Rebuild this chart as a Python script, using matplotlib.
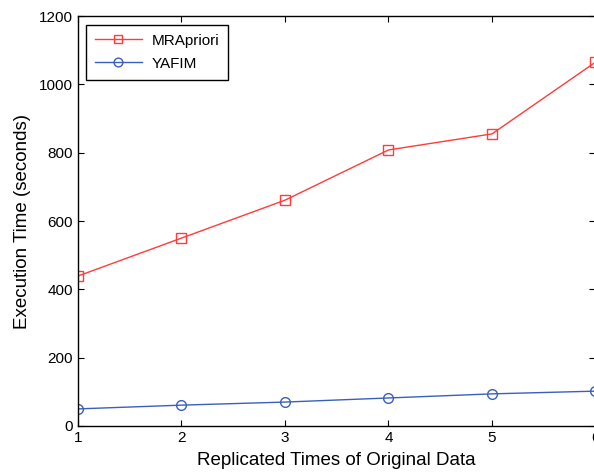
import matplotlib
matplotlib.use("Agg")
import matplotlib.pyplot as plt

plt.rcParams['font.family'] = ['Liberation Sans', 'DejaVu Sans']

x = [1, 2, 3, 4, 5, 6]
mrapriori = [439, 550, 661, 808, 855, 1065]
yafim = [50, 61, 70, 82, 94, 102]
xlabel = "Replicated Times of Original Data"
ylabel = "Execution Time (seconds)"

fig = plt.figure(figsize=(5.94, 4.72), dpi=100)
ax = fig.add_axes([0.1313, 0.0975, 0.8712, 0.8685])
ax.plot(x, mrapriori, color='#ff3b3b', marker='s', markersize=7, markerfacecolor='none',
        markeredgecolor='#ff3b3b', linewidth=1.0, label='MRApriori')
ax.plot(x, yafim, color='#3a5fbf', marker='o', markersize=7, markerfacecolor='none',
        markeredgecolor='#3a5fbf', linewidth=1.0, label='YAFIM')
ax.set_xlim(1, 6)
ax.set_ylim(0, 1200)
ax.set_xticks(x)
ax.set_yticks([0, 200, 400, 600, 800, 1000, 1200])
ax.tick_params(direction='in', top=True, right=True, labelsize=11, length=4, width=0.8)
for s in ax.spines.values():
    s.set_linewidth(1.0)
ax.set_xlabel(xlabel, fontsize=13.5, labelpad=5)
ax.set_ylabel(ylabel, fontsize=13.5, labelpad=6)
leg = ax.legend(loc='upper left', fontsize=11, fancybox=False, framealpha=1,
                edgecolor='black', borderpad=0.6, handlelength=3.1, labelspacing=0.6,
                handletextpad=0.6, bbox_to_anchor=(0.0, 0.998), markerscale=0.9)
leg.get_frame().set_linewidth(1.0)
fig.savefig('out.png', dpi=100)
